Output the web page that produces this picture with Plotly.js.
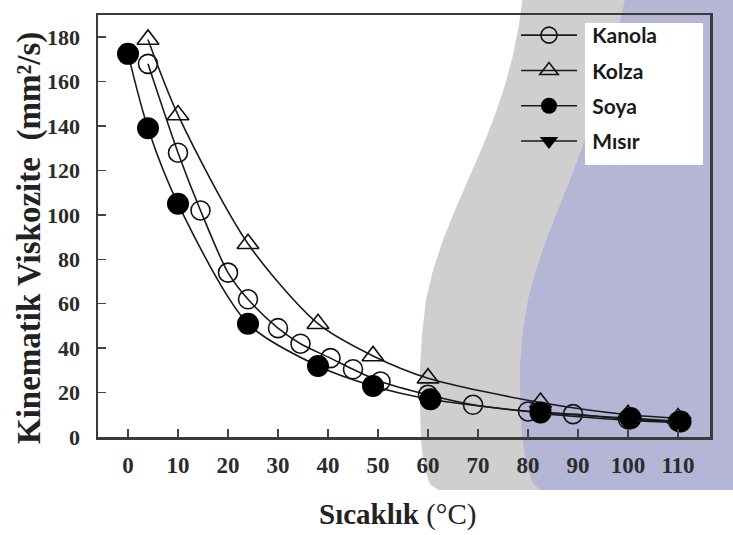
<!DOCTYPE html>
<html>
<head>
<meta charset="utf-8">
<script src="https://cdn.plot.ly/plotly-3.0.1.min.js"></script>
<style>html,body{margin:0;padding:0;background:#fff;}#chart{width:733px;height:535px;}</style>
</head>
<body>
<div id="chart"></div>
<script>
// ---- data ----
const seriesNames = ["Kanola", "Kolza", "Soya", "Mısır"];
const kanolaX = [4, 10, 14.5, 20, 24, 30, 34.5, 40.5, 45, 50.5, 60, 69, 80, 89, 100, 110];
const kanolaY = [168, 128, 102, 74, 62, 49, 42, 35.5, 30.5, 25, 19, 14.5, 11.5, 10.3, 8, 7];
const kolzaX = [4, 10, 24, 38, 49, 60, 82.5, 100, 110];
const kolzaY = [179, 145, 87, 51, 36.5, 26.5, 15.5, 10, 8.5];
const soyaX = [0, 4, 10, 24, 38, 49, 60.5, 82.5, 100.5, 110.5];
const soyaY = [172.5, 139, 105, 51, 32, 23, 17, 11, 8.5, 7];
const misirX = [82.5, 100.5, 110.5];
const misirY = [10.5, 7.5, 6.5];
const xTicks = [0, 10, 20, 30, 40, 50, 60, 70, 80, 90, 100, 110];
const yTicks = [0, 20, 40, 60, 80, 100, 120, 140, 160, 180];
const xTitle = "<b>Sıcaklık</b> (°C)";
const yTitle = "<b>Kinematik Viskozite  (mm²/s)</b>";

// ---- geometry helpers for background decoration (pixel -> paper) ----
const L = 98, R = 710, T = 15, B = 437;
const px = x => (x - L) / (R - L);
const py = y => (B - y) / (B - T);
const pathFrom = pts => pts.map((p, i) => (i ? "L" : "M") + px(p[0]).toFixed(4) + "," + py(p[1]).toFixed(4)).join(" ") + " Z";

const grayPts = [[523,-5],[519,25],[513,55],[505,85],[495,115],[482,148],[468,180],[455,210],[443,240],[433,270],[426,300],[422,335],[420,370],[420,405],[421,440],[424,468],[430,484],[438,490],[745,490],[745,-5]];
const purplePts = [[626,-5],[618,30],[606,70],[594,110],[583,145],[572,175],[560,205],[547,238],[536,270],[528,300],[523,330],[520,365],[520,400],[522,435],[526,462],[532,482],[540,490],[745,490],[745,-5]];

const serif = "'Liberation Serif', 'Times New Roman', serif";
const markerLine = {color: "#111", width: 1.6};
const lineStyle = {color: "#1a1a1a", width: 1.6, shape: "spline", smoothing: 0.8};
const pad = "\u00a0\u00a0";

const traces = [
  {x: kanolaX, y: kanolaY, name: pad + seriesNames[0], legendgroup: "a", mode: "lines+markers",
   line: lineStyle, marker: {symbol: "circle-open", size: 19, color: "#111", line: markerLine}},
  {x: kolzaX, y: kolzaY, name: pad + seriesNames[1], legendgroup: "b", mode: "lines+markers",
   line: lineStyle, marker: {symbol: "triangle-up-open", size: 19, color: "#111", line: markerLine}},
  {x: soyaX, y: soyaY, name: pad + seriesNames[2], legendgroup: "c", mode: "lines+markers",
   line: lineStyle, marker: {symbol: "circle", size: 22, color: "#000"}},
  {x: misirX, y: misirY, name: pad + seriesNames[3], legendgroup: "d", mode: "lines+markers",
   line: lineStyle, marker: {symbol: "triangle-down", size: 20, color: "#000"}}
];

const axisCommon = {
  showgrid: false, zeroline: false, showline: true, mirror: true,
  linecolor: "#3a3a3a", linewidth: 2.5,
  ticks: "inside", ticklen: 8, tickwidth: 1.5, tickcolor: "#444",
  fixedrange: true
};

const layout = {
  width: 733, height: 535,
  margin: {l: L, r: 733 - R, t: T, b: 535 - B, pad: 0},
  paper_bgcolor: "#ffffff", plot_bgcolor: "rgba(0,0,0,0)",
  showlegend: true,
  legend: {x: px(516), y: py(15), xanchor: "left", yanchor: "top",
           bgcolor: "rgba(0,0,0,0)", borderwidth: 0, tracegroupgap: 5, itemwidth: 56,
           font: {family: "Lato, 'Open Sans', sans-serif", size: 21, weight: "bold", color: "#1a1a1a"}},
  xaxis: Object.assign({}, axisCommon, {
    range: [-6, 116.4], tickvals: xTicks, ticktext: xTicks.map(String),
    ticklabelstandoff: 6,
    tickfont: {family: serif, size: 23, weight: "bold", color: "#2b2b2b"}
  }),
  yaxis: Object.assign({}, axisCommon, {
    range: [0, 190], tickvals: yTicks, ticktext: yTicks.map(String),
    ticklabelstandoff: 11,
    tickfont: {family: serif, size: 22, weight: "bold", color: "#2b2b2b"}
  }),
  annotations: [
    {text: xTitle, xref: "paper", yref: "paper", x: px(397), y: py(514), xanchor: "center", yanchor: "middle",
     showarrow: false, font: {family: serif, size: 29, color: "#222"}},
    {text: yTitle, xref: "paper", yref: "paper", x: px(29), y: py(238), xanchor: "center", yanchor: "middle",
     textangle: -90, showarrow: false, font: {family: serif, size: 33, color: "#222"}}
  ],
  shapes: [
    {type: "path", xref: "paper", yref: "paper", layer: "below", path: pathFrom(grayPts),
     fillcolor: "#cfcfcf", line: {width: 0}},
    {type: "path", xref: "paper", yref: "paper", layer: "below", path: pathFrom(purplePts),
     fillcolor: "#b5b5d5", line: {width: 0}},
    {type: "rect", xref: "paper", yref: "paper", layer: "below",
     x0: px(585), x1: px(703), y0: py(165), y1: py(23), fillcolor: "#ffffff", line: {width: 0}}
  ]
};

Plotly.newPlot("chart", traces, layout, {displayModeBar: false, staticPlot: true});
</script>
</body>
</html>
